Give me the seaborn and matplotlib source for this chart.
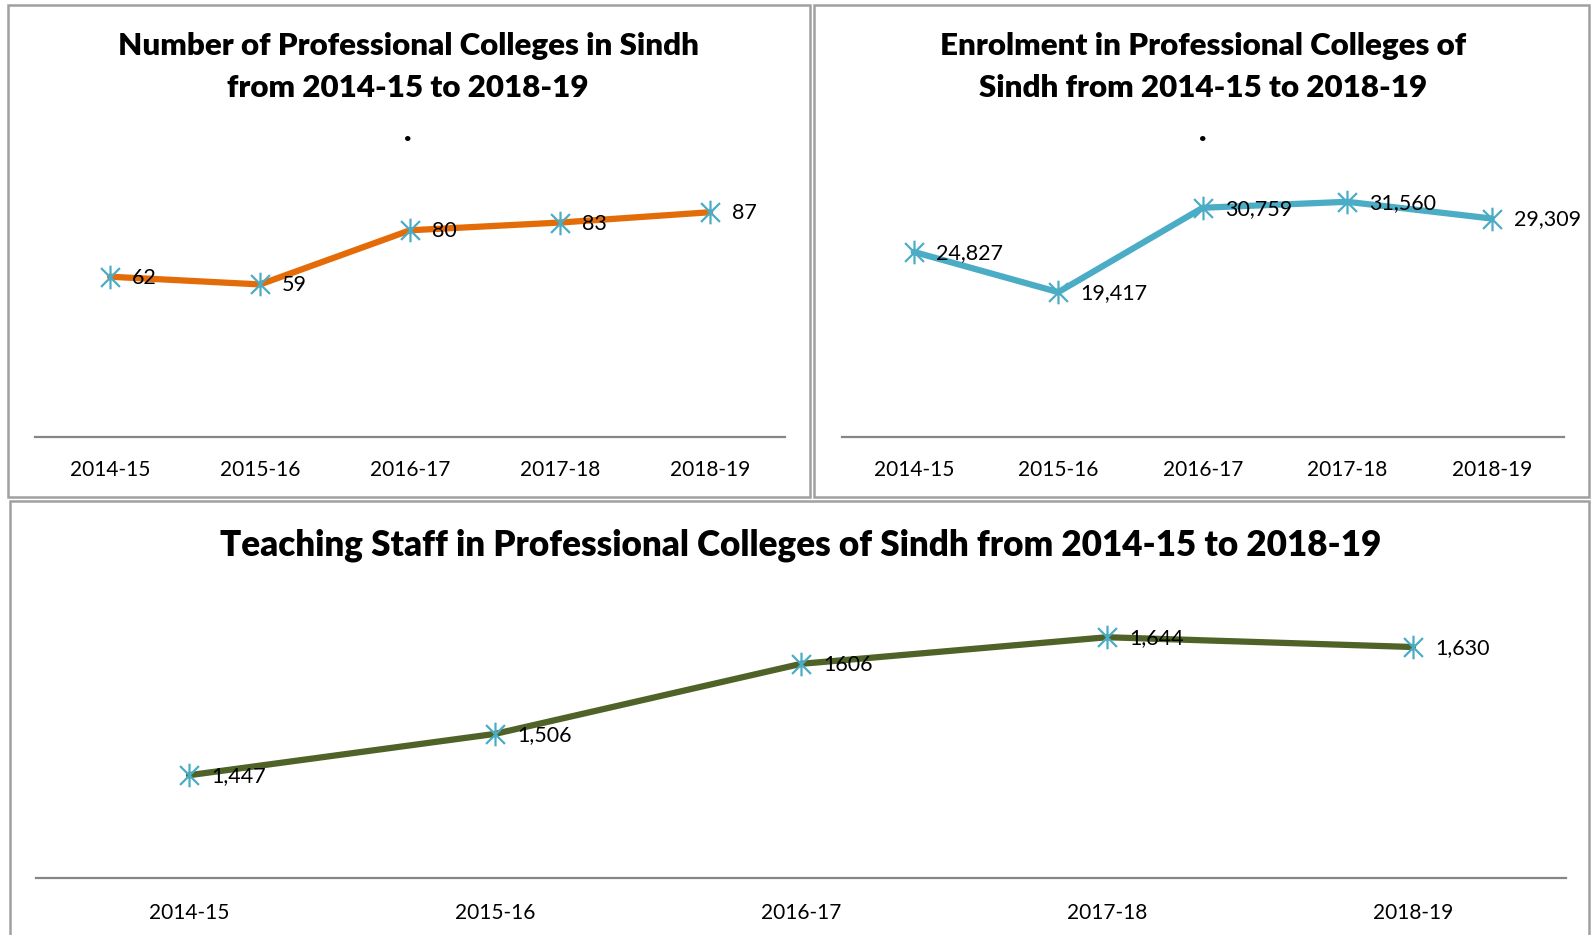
import numpy as np
import matplotlib
matplotlib.use("Agg")
import matplotlib.pyplot as plt
from matplotlib.path import Path
from matplotlib.patches import Rectangle
import pandas as pd
import seaborn as sns

years = ["2014-15", "2015-16", "2016-17", "2017-18", "2018-19"]
colleges = [62, 59, 80, 83, 87]
colleges_labels = ["62", "59", "80", "83", "87"]
enrolment = [24827, 19417, 30759, 31560, 29309]
enrolment_labels = ["24,827", "19,417", "30,759", "31,560", "29,309"]
staff = [1447, 1506, 1606, 1644, 1630]
staff_labels = ["1,447", "1,506", "1606", "1,644", "1,630"]

sns.set_style("white")
plt.rcParams['font.family'] = ['Lato', 'DejaVu Sans']
plt.rcParams['text.color'] = 'black'

W, H = 1592, 935
fig = plt.figure(figsize=(W / 100, H / 100), dpi=100)

def fx(px):
    return px / W

def fy(py):
    return 1 - py / H

def add_ax(x0, x1, ytop, ybot):
    return fig.add_axes([fx(x0), fy(ybot), fx(x1) - fx(x0), fy(ytop) - fy(ybot)])

# panel borders
for (x0, y0, x1, y1) in [(8, 5, 810, 497), (814, 5, 1589, 497), (10, 501, 1589, 940)]:
    fig.patches.append(Rectangle((fx(x0), fy(y1)), fx(x1) - fx(x0), fy(y0) - fy(y1),
                                 transform=fig.transFigure, fill=False,
                                 edgecolor="#a0a0a0", linewidth=1.8))

# asterisk marker like the office "star"
star = Path([(-1, -1), (1, 1), (-1, 1), (1, -1), (0, -1.25), (0, 1.25)],
            [Path.MOVETO, Path.LINETO, Path.MOVETO, Path.LINETO, Path.MOVETO, Path.LINETO])

def draw(ax, vals, labels, color, ylim):
    sns.lineplot(x=years, y=vals, ax=ax, sort=False, color=color, linewidth=4.5,
                 marker=star, markersize=17, markeredgecolor="#4BACC6",
                 markerfacecolor="none", markeredgewidth=1.6)
    ax.set_xlim(-0.5, 4.5)
    ax.set_ylim(*ylim)
    for i, (v, lab) in enumerate(zip(vals, labels)):
        ax.annotate(lab, (i, v), xytext=(22, -1), textcoords="offset pixels",
                    ha="left", va="center", fontsize=15.5, color="black")
    for s in ["top", "left", "right"]:
        ax.spines[s].set_visible(False)
    ax.spines["bottom"].set_color("#868686")
    ax.spines["bottom"].set_linewidth(1.6)
    ax.set_yticks([])
    ax.set_xlabel("")
    ax.set_ylabel("")
    ax.tick_params(axis="x", length=0, labelsize=15, pad=17, colors="black")

ax1 = add_ax(35, 785, 178.7, 436.6)
draw(ax1, colleges, colleges_labels, "#E36C09", (0, 100))

ax2 = add_ax(841.5, 1564, 176.2, 436.6)
draw(ax2, enrolment, enrolment_labels, "#4BACC6", (0, 35000))

ax3 = add_ax(36, 1566, 598, 878.2)
draw(ax3, staff, staff_labels, "#4F6228", (1300, 1700))
ax3.tick_params(axis="x", pad=18)

tkw = dict(ha="center", va="center", fontsize=22.5, fontweight="heavy", color="black")
fig.text(fx(408), fy(46), "Number of Professional Colleges in Sindh", **tkw)
fig.text(fx(408), fy(88), "from 2014-15 to 2018-19", **tkw)
fig.text(fx(408), fy(132), ".", **tkw)
fig.text(fx(1203), fy(46), "Enrolment in Professional Colleges of", **tkw)
fig.text(fx(1203), fy(88), "Sindh from 2014-15 to 2018-19", **tkw)
fig.text(fx(1203), fy(132), ".", **tkw)
fig.text(fx(801), fy(545), "Teaching Staff in Professional Colleges of Sindh from 2014-15 to 2018-19",
         ha="center", va="center", fontsize=25.2, fontweight="heavy", color="black")

fig.savefig("out.png", dpi=100)
